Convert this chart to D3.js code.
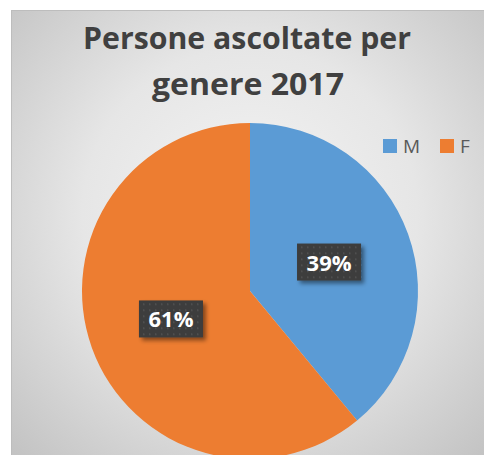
<!DOCTYPE html>
<html>
<head>
<meta charset="utf-8">
<script src="https://cdn.jsdelivr.net/npm/d3@7"></script>
<style>
  html, body { margin: 0; padding: 0; background: #ffffff; overflow: hidden; }
  svg { display: block; }
</style>
</head>
<body>
<svg id="chart" width="484" height="455"></svg>
<script>
// Data
const categories = ["M", "F"];
const values = [39, 61];
const valueLabels = ["39%", "61%"];
const sliceColors = ["#5b9bd5", "#ed7d31"];
const titleLines = ["Persone ascoltate per", "genere 2017"];

const W = 484, H = 455;
const svg = d3.select("#chart");
const defs = svg.append("defs");

// Chart area background: soft radial gray gradient
const bg = defs.append("radialGradient")
  .attr("id", "bgGrad")
  .attr("gradientUnits", "userSpaceOnUse")
  .attr("cx", 250).attr("cy", 215).attr("r", 335);
bg.append("stop").attr("offset", 0).attr("stop-color", "#f4f4f4");
bg.append("stop").attr("offset", 0.5).attr("stop-color", "#e6e6e6");
bg.append("stop").attr("offset", 1).attr("stop-color", "#c3c3c3");

// Dotted fill for the data label boxes
const pat = defs.append("pattern")
  .attr("id", "dots")
  .attr("patternUnits", "userSpaceOnUse")
  .attr("width", 6).attr("height", 6);
pat.append("rect").attr("width", 6).attr("height", 6).attr("fill", "#3c3c3c");
pat.append("rect").attr("x", 2).attr("y", 2).attr("width", 1.5).attr("height", 1.5).attr("fill", "#575757");

const shadow = defs.append("filter").attr("id", "lblShadow")
  .attr("x", "-30%").attr("y", "-30%").attr("width", "160%").attr("height", "160%");
shadow.append("feDropShadow")
  .attr("dx", 3).attr("dy", 3).attr("stdDeviation", 2)
  .attr("flood-color", "#000").attr("flood-opacity", 0.45);

// Frame
svg.append("rect")
  .attr("x", 11.5).attr("y", 10.5)
  .attr("width", W - 11).attr("height", H - 10)
  .attr("fill", "url(#bgGrad)")
  .attr("stroke", "#bdbdbd").attr("stroke-width", 1);

// Title (two lines, condensed to the title block width)
const titleFont = "'Open Sans', 'DejaVu Sans', sans-serif";
const titleSpec = [
  { x: 247, y: 49, w: 328 },
  { x: 248, y: 95, w: 192 }
];
svg.append("g").attr("class", "title")
  .selectAll("text")
  .data(titleLines)
  .join("text")
  .attr("x", (d, i) => titleSpec[i].x)
  .attr("y", (d, i) => titleSpec[i].y)
  .attr("text-anchor", "middle")
  .attr("font-family", titleFont).attr("font-weight", 700)
  .attr("font-size", 30).attr("fill", "#404040")
  .attr("textLength", (d, i) => titleSpec[i].w)
  .attr("lengthAdjust", "spacingAndGlyphs")
  .text(d => d);

// Pie
const cx = 250, cy = 291, R = 168;
const pie = d3.pie().sort(null).value(d => d.value);
const arc = d3.arc().innerRadius(0).outerRadius(R);
const data = categories.map((c, i) => ({ cat: c, value: values[i], label: valueLabels[i], color: sliceColors[i] }));
const arcs = pie(data);

const g = svg.append("g").attr("transform", `translate(${cx},${cy})`);
g.selectAll("path.slice")
  .data(arcs)
  .join("path")
  .attr("class", "slice")
  .attr("d", arc)
  .attr("fill", d => d.data.color);

// Data labels
const lbl = g.selectAll("g.lbl")
  .data(arcs)
  .join("g")
  .attr("class", "lbl")
  .attr("transform", d => { const [x, y] = arc.centroid(d); return `translate(${x},${y})`; });
lbl.append("rect")
  .attr("x", -32).attr("y", -19).attr("width", 64).attr("height", 37)
  .attr("fill", "url(#dots)")
  .attr("filter", "url(#lblShadow)");
lbl.append("text")
  .attr("text-anchor", "middle")
  .attr("y", 8)
  .attr("font-family", titleFont).attr("font-weight", 700)
  .attr("font-size", 22).attr("fill", "#ffffff")
  .text(d => d.data.label);

// Legend
const legend = svg.append("g").attr("class", "legend");
const legX = [383, 440];
const leg = legend.selectAll("g")
  .data(data)
  .join("g")
  .attr("transform", (d, i) => `translate(${legX[i]},139)`);
leg.append("rect").attr("width", 14).attr("height", 14).attr("fill", d => d.color);
leg.append("text")
  .attr("x", 20).attr("y", 14)
  .attr("font-family", titleFont).attr("font-size", 19)
  .attr("fill", "#595959")
  .text(d => d.cat);
</script>
</body>
</html>
